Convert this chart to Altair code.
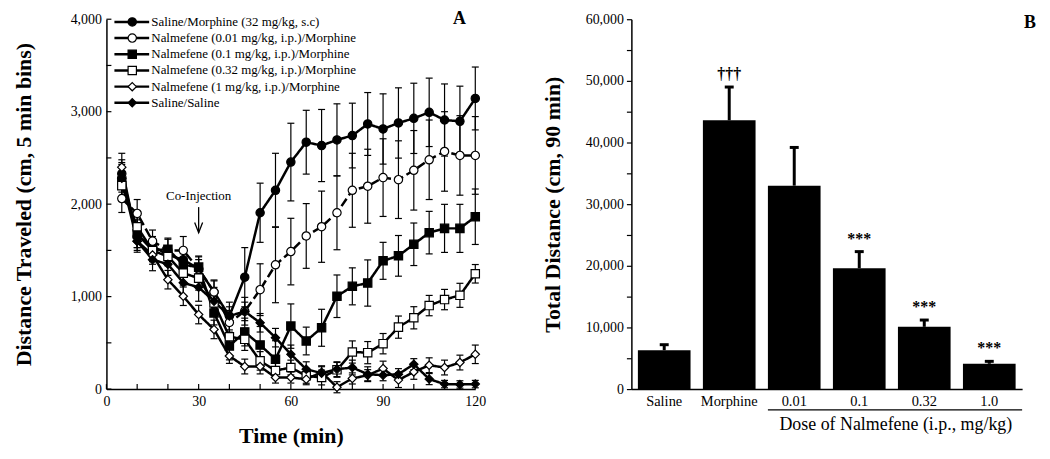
import altair as alt
import pandas as pd

# ---------------- Panel A data ----------------
times = list(range(5, 125, 5))
series_names = [
    "Saline/Morphine (32 mg/kg, s.c)",
    "Nalmefene (0.01 mg/kg, i.p.)/Morphine",
    "Nalmefene (0.1 mg/kg, i.p.)/Morphine",
    "Nalmefene (0.32 mg/kg, i.p.)/Morphine",
    "Nalmefene (1 mg/kg, i.p.)/Morphine",
    "Saline/Saline",
]
sal_mor = [2330, 1650, 1550, 1450, 1400, 1300, 1050, 790, 1210, 1907, 2150, 2455,
           2670, 2634, 2695, 2742, 2867, 2813, 2878, 2928, 2993, 2910, 2896, 3143]
sal_mor_se = [150, 120, 100, 100, 100, 100, 120, 150, 320, 320, 400, 420,
              345, 390, 390, 350, 340, 380, 380, 380, 370, 390, 380, 340]
nal001 = [2060, 1900, 1600, 1500, 1500, 1300, 1050, 720, 842, 1075, 1344, 1487,
          1656, 1756, 1907, 2150, 2194, 2287, 2265, 2366, 2480, 2570, 2527, 2527]
nal001_se = [150, 150, 120, 120, 150, 130, 130, 130, 150, 280, 410, 360,
             350, 385, 400, 400, 400, 420, 420, 430, 430, 430, 430, 420]
nal01 = [2250, 1680, 1500, 1513, 1344, 1319, 824, 466, 617, 477, 323, 681,
         520, 663, 1004, 1111, 1147, 1387, 1441, 1566, 1692, 1738, 1738, 1864]
nal01_se = [200, 150, 120, 120, 120, 120, 130, 150, 150, 200, 200, 240,
            150, 200, 230, 200, 250, 200, 220, 230, 230, 260, 260, 300]
nal032 = [2200, 1756, 1498, 1434, 1254, 1200, 932, 566, 538, 305, 200, 233,
          143, 125, 208, 401, 394, 491, 670, 771, 903, 968, 1014, 1247]
nal032_se = [150, 130, 120, 100, 130, 130, 120, 130, 120, 100, 80, 80,
             80, 80, 80, 120, 120, 110, 120, 120, 110, 110, 130, 100]
nal1 = [2400, 1600, 1450, 1183, 1004, 806, 645, 358, 244, 244, 125, 125,
        107, 182, 20, 115, 150, 222, 97, 186, 258, 233, 287, 376]
nal1_se = [150, 100, 100, 100, 100, 100, 100, 80, 80, 80, 60, 60,
           60, 60, 60, 60, 60, 80, 80, 80, 80, 80, 80, 100]
sal_sal = [2280, 1600, 1400, 1350, 1150, 1100, 950, 790, 840, 717, 556, 376,
           215, 172, 215, 233, 161, 150, 161, 269, 108, 54, 50, 54]
sal_sal_se = [150, 120, 120, 120, 150, 150, 150, 100, 100, 100, 100, 100,
              80, 80, 80, 80, 80, 60, 60, 60, 60, 40, 40, 40]

means_a = [sal_mor, nal001, nal01, nal032, nal1, sal_sal]
ses_a = [sal_mor_se, nal001_se, nal01_se, nal032_se, nal1_se, sal_sal_se]

x_ticks_a = list(range(0, 121, 10))
x_labels_a = [0, 30, 60, 90, 120]
y_ticks_a = list(range(0, 4001, 500))
y_labels_a = [0, 1000, 2000, 3000, 4000]

coinj_label = "Co-Injection"

# ---------------- Panel B data ----------------
cats = ["Saline", "Morphine", "0.01", "0.1", "0.32", "1.0"]
totals = [6300, 43600, 33000, 19600, 10100, 4100]
totals_se = [900, 5400, 6200, 2700, 1100, 400]
marks_b = ["", "†††", "", "***", "***", "***"]
y_ticks_b = list(range(0, 60001, 5000))

# ---------------- styling ----------------
FONT = "Liberation Serif"
WA, HA = 371, 372
WB, HB = 393, 372

rows = []
for name, m, s in zip(series_names, means_a, ses_a):
    for t, v, e in zip(times, m, s):
        rows.append({"series": name, "t": t, "v": v, "lo": v - e, "hi": v + e})
df = pd.DataFrame(rows)

shapes = ["circle", "circle", "square", "square", "diamond", "diamond"]
fills = ["black", "white", "black", "white", "white", "black"]
sizes = [70, 70, 100, 100, 55, 40]
dashes = [[1, 0], [9, 4], [1, 0], [1, 0], [1, 0], [1, 0]]

xs = alt.Scale(domain=[0, 120], nice=False)
ys = alt.Scale(domain=[0, 4000], nice=False)
ax_x = alt.Axis(values=x_labels_a, ticks=False, labelPadding=6, labelFontSize=14,
                labelExpr="format(datum.value, 'd')", labelFlush=False,
                title="Time (min)", titleFontSize=22, titleFontWeight="bold",
                titlePadding=17, domainWidth=1.5)
ax_y = alt.Axis(values=y_labels_a, ticks=False, labelPadding=5,
                labelFontSize=14, labelExpr="format(datum.value, ',')", labelFlush=False,
                title="Distance Traveled (cm, 5 min bins)",
                titleFontSize=22, titleFontWeight="bold", titlePadding=35,
                domainWidth=1.5)
X = alt.X("t:Q", scale=xs, axis=ax_x)
shape_enc = alt.Shape("series:N", scale=alt.Scale(domain=series_names, range=shapes), legend=None)
fill_enc = alt.Fill("series:N", scale=alt.Scale(domain=series_names, range=fills), legend=None)
size_enc = alt.Size("series:N", scale=alt.Scale(domain=series_names, range=sizes), legend=None)
dash_enc = alt.StrokeDash("series:N", scale=alt.Scale(domain=series_names, range=dashes), legend=None)

base = alt.Chart(df)
err = base.mark_rule(color="black", strokeWidth=1.2).encode(
    x=X, y=alt.Y("lo:Q", scale=ys, axis=ax_y), y2="hi:Q")
cap_hi = base.mark_point(shape="stroke", size=49, color="black", strokeWidth=1.2, opacity=1).encode(
    x=X, y=alt.Y("hi:Q", scale=ys, axis=ax_y))
cap_lo = base.mark_point(shape="stroke", size=49, color="black", strokeWidth=1.2, opacity=1).encode(
    x=X, y=alt.Y("lo:Q", scale=ys, axis=ax_y))
lines = base.mark_line(color="black", strokeWidth=2.5).encode(
    x=X, y=alt.Y("v:Q", scale=ys, axis=ax_y), detail="series:N", strokeDash=dash_enc)
pts = base.mark_point(filled=True, stroke="black", strokeWidth=1.2, opacity=1).encode(
    x=X, y=alt.Y("v:Q", scale=ys, axis=ax_y), shape=shape_enc, fill=fill_enc, size=size_enc)

# inward ticks
yt = alt.Chart(pd.DataFrame({"v": y_ticks_a})).mark_rule(color="black", strokeWidth=1.2).encode(
    y=alt.Y("v:Q", scale=ys, axis=ax_y), x=alt.value(0), x2=alt.value(5))
xt = alt.Chart(pd.DataFrame({"t": x_ticks_a})).mark_rule(color="black", strokeWidth=1.2).encode(
    x=X, y=alt.value(HA), y2=alt.value(HA - 5))

# legend (drawn inside the plot)
leg = pd.DataFrame({"series": series_names, "i": list(range(len(series_names)))})
leg["ly"] = 3971 - 175 * leg["i"]
leg["x1"] = 2.6
leg["x2"] = 13.9
leg["xm"] = 8.4
leg["xt"] = 14.6
lbase = alt.Chart(leg)
leg_line = lbase.mark_rule(color="black", strokeWidth=2.5).encode(
    x=alt.X("x1:Q", scale=xs, axis=ax_x), x2="x2:Q", y=alt.Y("ly:Q", scale=ys, axis=ax_y))
leg_pt = lbase.mark_point(filled=True, stroke="black", strokeWidth=1.2, opacity=1).encode(
    x=alt.X("xm:Q", scale=xs, axis=ax_x), y=alt.Y("ly:Q", scale=ys, axis=ax_y),
    shape=shape_enc, fill=fill_enc, size=size_enc)
leg_txt = lbase.mark_text(align="left", baseline="middle", font=FONT, fontSize=13, color="black").encode(
    x=alt.X("xt:Q", scale=xs, axis=ax_x), y=alt.Y("ly:Q", scale=ys, axis=ax_y), text="series:N")

# Co-Injection annotation
ann = pd.DataFrame({"t": [30], "ty": [2086], "a1": [1968], "a2": [1690], "label": [coinj_label]})
abase = alt.Chart(ann)
ann_txt = abase.mark_text(font=FONT, fontSize=13, color="black", baseline="middle").encode(
    x=X, y=alt.Y("ty:Q", scale=ys, axis=ax_y), text="label:N")
ann_rule = abase.mark_rule(color="black", strokeWidth=1.3).encode(
    x=X, y=alt.Y("a1:Q", scale=ys, axis=ax_y), y2="a2:Q")
ann_head = abase.mark_point(shape="M-1,-2.6L0,0L1,-2.6", size=64, filled=False, color="black",
                            strokeWidth=1.3, opacity=1).encode(
    x=X, y=alt.Y("a2:Q", scale=ys, axis=ax_y))

lab_a = alt.Chart(pd.DataFrame({"p": ["A"]})).mark_text(
    font=FONT, fontSize=18, fontWeight="bold", color="black").encode(
    text="p:N", x=alt.value(355), y=alt.value(0))

panel_a = alt.layer(err, cap_hi, cap_lo, lines, pts, yt, xt, leg_line, leg_pt, leg_txt,
                    ann_txt, ann_rule, ann_head, lab_a).properties(width=WA, height=HA)

# ---------------- Panel B ----------------
dfb = pd.DataFrame({"cat": cats, "m": totals, "se": totals_se, "mk": marks_b})
dfb["top"] = dfb["m"] + dfb["se"]
bxs = alt.Scale(domain=cats, paddingInner=0.19, paddingOuter=0.1)
bys = alt.Scale(domain=[0, 60000], nice=False)
axb_x = alt.Axis(labelAngle=0, ticks=False, labelPadding=6, labelFontSize=14.5, title=None,
                 domainWidth=1.5)
axb_y = alt.Axis(values=y_ticks_b, tickSize=5, tickWidth=1.2, labelPadding=3, labelFontSize=14,
                 labelExpr="datum.value % 10000 == 0 ? format(datum.value, ',') : ''",
                 labelFlush=False,
                 title="Total Distance (cm, 90 min)", titleFontSize=22, titleFontWeight="bold",
                 titlePadding=21, domainWidth=1.5)
BX = alt.X("cat:N", scale=bxs, axis=axb_x, sort=cats)
bb = alt.Chart(dfb)
bars = bb.mark_bar(color="black").encode(x=BX, y=alt.Y("m:Q", scale=bys, axis=axb_y))
berr = bb.mark_rule(color="black", strokeWidth=3).encode(
    x=BX, y=alt.Y("m:Q", scale=bys, axis=axb_y), y2="top:Q")
bcap = bb.mark_point(shape="stroke", size=81, color="black", strokeWidth=3, opacity=1).encode(
    x=BX, y=alt.Y("top:Q", scale=bys, axis=axb_y))
bmk = bb.mark_text(font=FONT, fontSize=16, fontWeight="bold", baseline="bottom", dy=-5,
                   color="black", fill="black").encode(
    x=BX, y=alt.Y("top:Q", scale=bys, axis=axb_y), text="mk:N")

dose = pd.DataFrame({"cat": ["0.01"], "label": ["Dose of Nalmefene (i.p., mg/kg)"]})
dose_rule = alt.Chart(dose).mark_rule(color="black", strokeWidth=1.2).encode(
    x=alt.X("cat:N", scale=bxs, axis=axb_x, sort=cats, bandPosition=0),
    x2=alt.value(WB), y=alt.value(HB + 21))
dose_txt = alt.Chart(dose).mark_text(font=FONT, fontSize=18, color="black", baseline="middle").encode(
    text="label:N", x=alt.value(266), y=alt.value(HB + 36))
lab_b = alt.Chart(pd.DataFrame({"p": ["B"]})).mark_text(
    font=FONT, fontSize=18, fontWeight="bold", color="black").encode(
    text="p:N", x=alt.value(401), y=alt.value(4))

panel_b = alt.layer(bars, berr, bcap, bmk, dose_rule, dose_txt, lab_b).properties(width=WB, height=HB)

chart = alt.hconcat(panel_a, panel_b, spacing=55).properties(
    padding={"left": 4, "top": 1, "right": 5, "bottom": 5}
).configure_view(stroke=None).configure_axis(
    grid=False, domainColor="black", tickColor="black", labelColor="black", titleColor="black",
    labelFont=FONT, titleFont=FONT
)

chart.save("out.html", embed_options={"renderer": "svg", "actions": False})
